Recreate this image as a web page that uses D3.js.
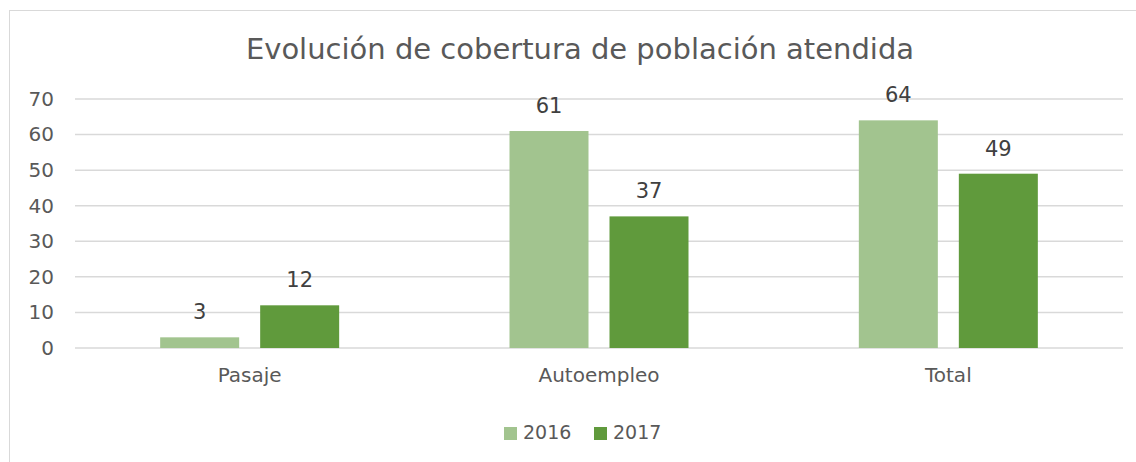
<!DOCTYPE html>
<html><head><meta charset="utf-8">
<script src="https://cdn.jsdelivr.net/npm/d3@7"></script>
<style>body{margin:0;background:#fff}svg{display:block}</style>
</head><body>
<script>
const categories = ["Pasaje", "Autoempleo", "Total"];
const seriesNames = ["2016", "2017"];
const values2016 = [3, 61, 64];
const values2017 = [12, 37, 49];
const yTicks = [0, 10, 20, 30, 40, 50, 60, 70];
const title = "Evolución de cobertura de población atendida";
const colors = ["#a2c48f", "#609a3c"];

(function () {
const W = 1136, H = 462;
const font = "'DejaVu Sans', sans-serif";
const svg = d3.select("body").append("svg").attr("width", W).attr("height", H);

// chart frame
svg.append("rect").attr("x", 9.5).attr("y", 10.5).attr("width", W + 10).attr("height", H + 10)
  .attr("fill", "#fff").attr("stroke", "#d9d9d9").attr("stroke-width", 1);

const pL = 75, pR = 1123, pT = 99, pB = 348;
const x = d3.scaleBand().domain(categories).range([pL, pR]);
const y = d3.scaleLinear().domain([0, 70]).range([pB, pT]);
const groupW = 179;
const xs = d3.scaleBand().domain(seriesNames).range([0, groupW]).paddingInner(0.21);

// grid
svg.append("g").selectAll("line").data(yTicks).join("line")
  .attr("x1", pL).attr("x2", pR)
  .attr("y1", d => y(d)).attr("y2", d => y(d))
  .attr("stroke", "#d9d9d9").attr("stroke-width", 1.5);

// y axis labels
const yAxis = svg.append("g").attr("transform", `translate(${pL - 21},0)`)
  .call(d3.axisLeft(y).tickValues(yTicks).tickSize(0).tickPadding(0));
yAxis.select(".domain").remove();
yAxis.selectAll("text").attr("font-family", font).attr("font-size", 20).attr("fill", "#595959");

// x axis labels
const xAxis = svg.append("g").attr("transform", `translate(0,${pB + 20})`)
  .call(d3.axisBottom(x).tickSize(0).tickPadding(0));
xAxis.select(".domain").remove();
xAxis.selectAll("text").attr("font-family", font).attr("font-size", 20).attr("fill", "#595959");

const data = categories.map((c, i) => ({cat: c, vals: [values2016[i], values2017[i]]}));
const groups = svg.append("g").selectAll("g").data(data).join("g")
  .attr("transform", d => `translate(${x(d.cat) + x.bandwidth() / 2 - groupW / 2},0)`);
groups.selectAll("rect").data(d => d.vals.map((v, j) => ({s: seriesNames[j], v, j}))).join("rect")
  .attr("x", d => xs(d.s)).attr("width", xs.bandwidth())
  .attr("y", d => y(d.v)).attr("height", d => y(0) - y(d.v))
  .attr("fill", d => colors[d.j]);
groups.selectAll("text").data(d => d.vals.map((v, j) => ({s: seriesNames[j], v, j}))).join("text")
  .attr("x", d => xs(d.s) + xs.bandwidth() / 2).attr("y", d => y(d.v) - 18)
  .attr("text-anchor", "middle").attr("font-family", font).attr("font-size", 21).attr("fill", "#404040")
  .text(d => d.v);

// title
svg.append("text").attr("x", 580).attr("y", 59).attr("text-anchor", "middle")
  .attr("font-family", font).attr("font-size", 29).attr("fill", "#595959").text(title);

// legend
const legend = svg.append("g");
const lx = [504, 594];
seriesNames.forEach((s, i) => {
  legend.append("rect").attr("x", lx[i]).attr("y", 427).attr("width", 13).attr("height", 13).attr("fill", colors[i]);
  legend.append("text").attr("x", lx[i] + 19).attr("y", 439).attr("font-family", font).attr("font-size", 19)
    .attr("fill", "#595959").text(s);
});
})();
</script>
</body></html>
